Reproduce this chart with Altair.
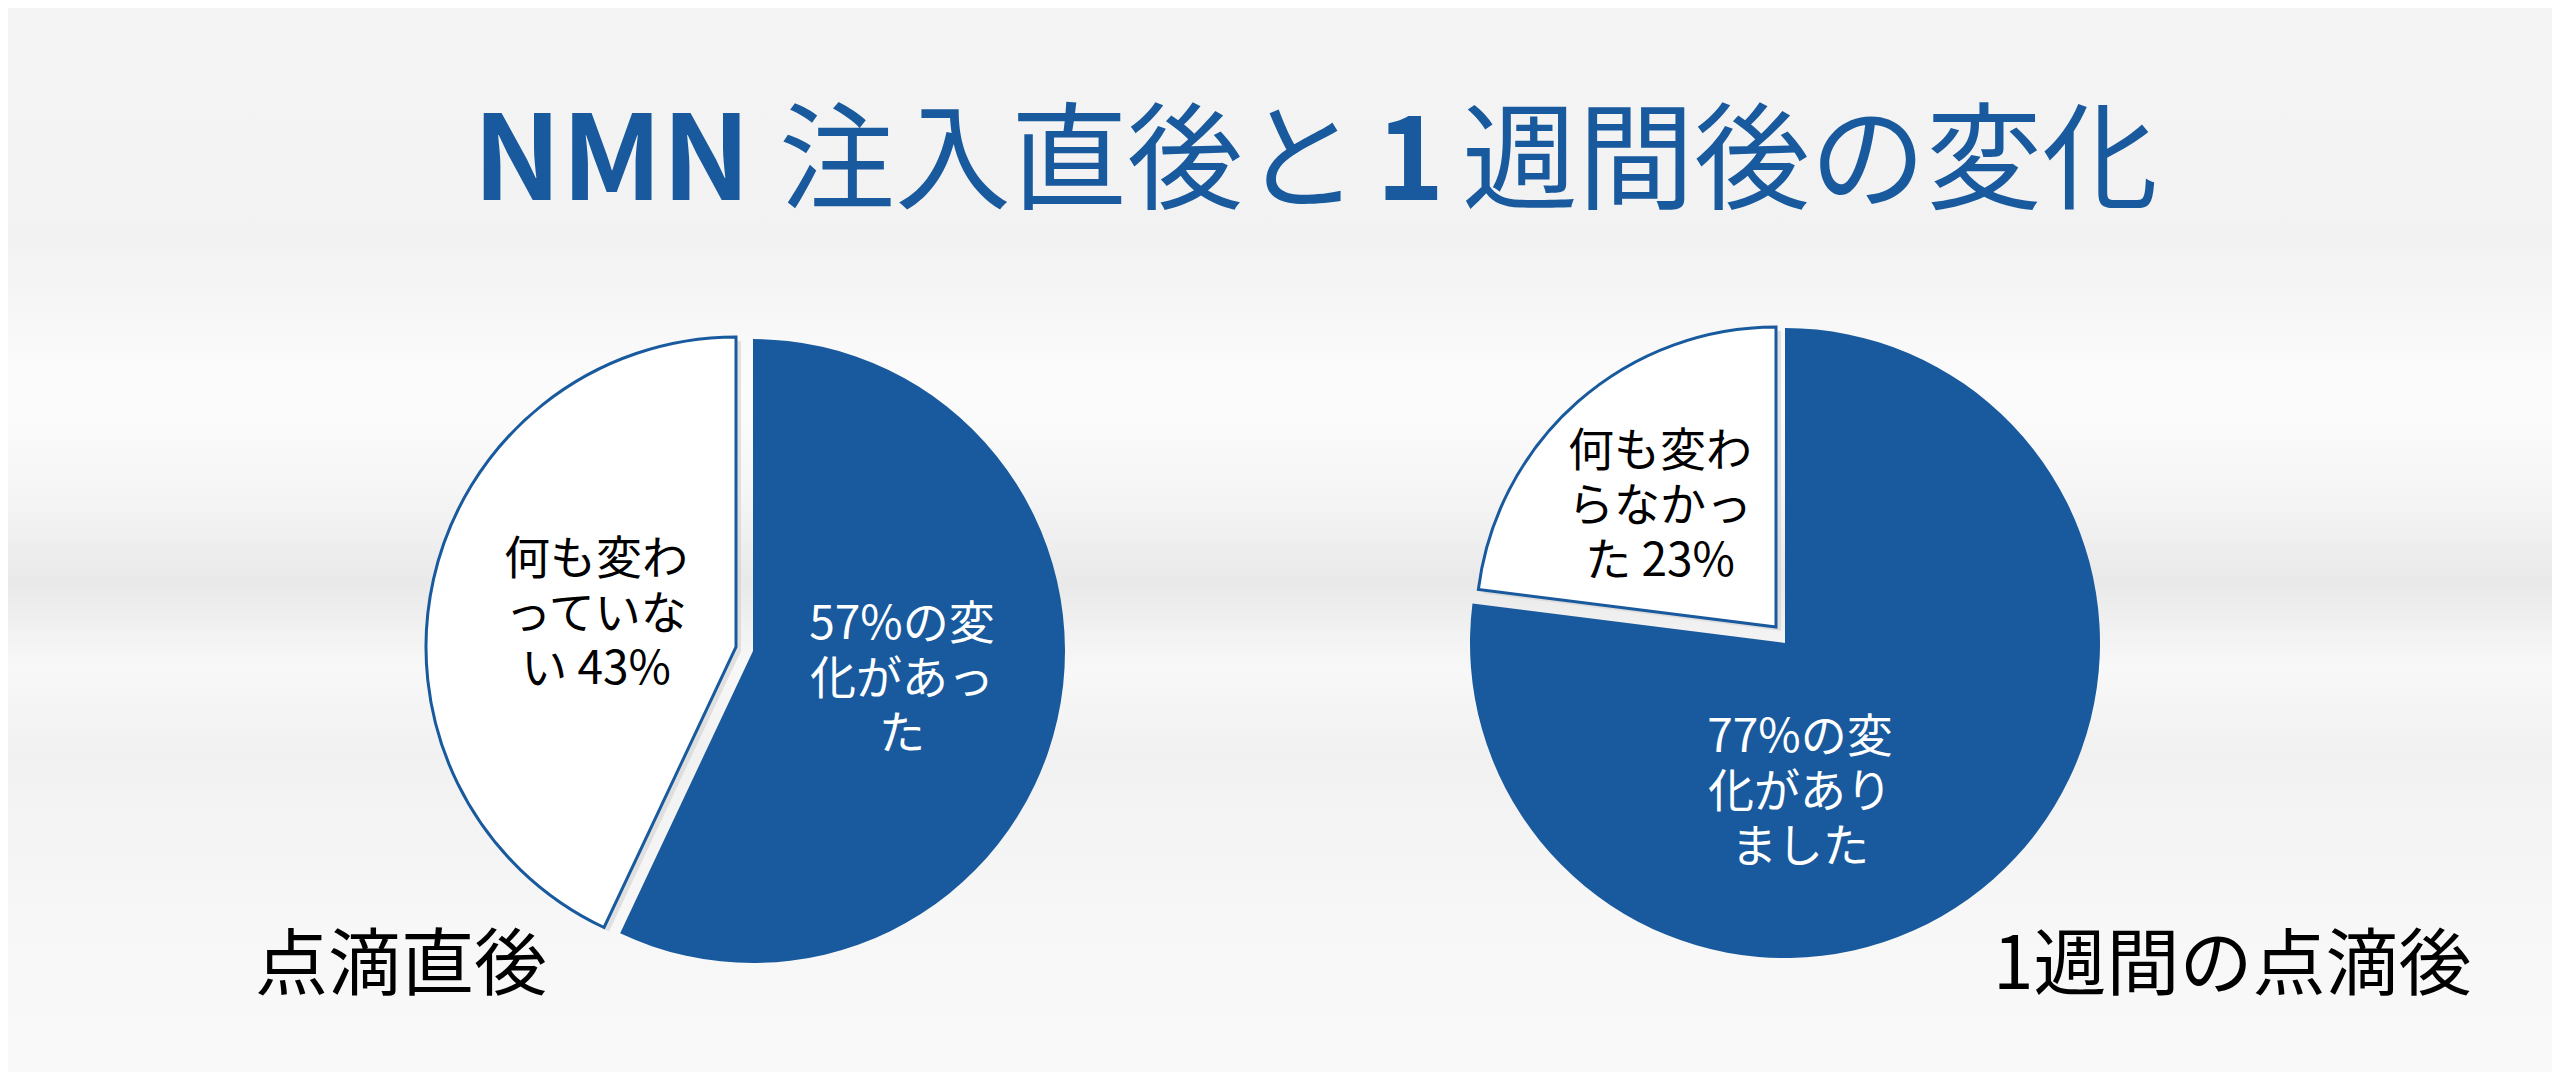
import math
import pandas as pd
import altair as alt

# ---------------- data ----------------
categories = ["変化あり", "変化なし"]
pct_immediate = [57, 43]
pct_week = [77, 23]
labels_immediate = ["57%の変\n化があっ\nた", "何も変わ\nっていな\nい 43%"]
labels_week = ["77%の変\n化があり\nました", "何も変わ\nらなかっ\nた 23%"]
panels = ["点滴直後", "1週間の点滴後"]
title_parts = ["NMN", "注入直後と", "1", "週間後の変化"]

rows = []
for panel, vals, labs in [(panels[0], pct_immediate, labels_immediate),
                          (panels[1], pct_week, labels_week)]:
    acc = 0
    for cat, v, lab in zip(categories, vals, labs):
        rows.append({"panel": panel, "category": cat, "pct": v,
                     "start": acc, "end": acc + v, "label": lab})
        acc += v
df = pd.DataFrame(rows)

# ---------------- style ----------------
W, H = 2544, 1064
BLUE = "#185a9d"
FONT = "Noto Sans CJK JP"
theta_scale = alt.Scale(domain=[0, 100], range=[0, 2 * math.pi])

base = alt.Chart(df)

bg = alt.Chart(alt.Data(values=[{"k": 1}])).mark_rect(
    color=alt.Gradient(
        gradient="linear", x1=0, x2=0, y1=0, y2=1,
        stops=[
            alt.GradientStop(offset=0.0, color="#f4f4f4"),
            alt.GradientStop(offset=0.22, color="#f2f2f2"),
            alt.GradientStop(offset=0.36, color="#fcfcfc"),
            alt.GradientStop(offset=0.45, color="#f6f6f6"),
            alt.GradientStop(offset=0.54, color="#e9e9e9"),
            alt.GradientStop(offset=0.62, color="#f8f8f8"),
            alt.GradientStop(offset=0.70, color="#f1f1f1"),
            alt.GradientStop(offset=0.85, color="#f7f7f7"),
            alt.GradientStop(offset=1.0, color="#f9f9f9"),
        ],
    )
).encode(x=alt.value(0), x2=alt.value(W), y=alt.value(0), y2=alt.value(H))


def slice_layer(panel, cat, cx, cy, r, fill, stroke=None, shadow=False):
    sel = base.transform_filter(
        (alt.datum.panel == panel) & (alt.datum.category == cat))
    layers = []
    if shadow:
        layers.append(sel.mark_arc(radius=r, fill="#cdcdcd", opacity=0.55).encode(
            theta=alt.Theta("start:Q", scale=theta_scale), theta2="end:Q",
            x=alt.value(cx + 5), y=alt.value(cy + 4)))
    kw = dict(radius=r, fill=fill)
    if stroke:
        kw.update(stroke=stroke, strokeWidth=3)
    layers.append(sel.mark_arc(**kw).encode(
        theta=alt.Theta("start:Q", scale=theta_scale), theta2="end:Q",
        x=alt.value(cx), y=alt.value(cy)))
    return layers


def label_layer(panel, cat, x, y, color):
    # y is the position of the first line of the wrapped label
    sel = base.transform_filter(
        (alt.datum.panel == panel) & (alt.datum.category == cat))
    return sel.mark_text(font=FONT, fontSize=46, lineHeight=55, lineBreak="\n",
                         align="center", baseline="middle", color=color).encode(
        text="label:N", x=alt.value(x), y=alt.value(y))


def free_text(txt, x, y, size, color, weight="normal", align="left"):
    return alt.Chart(alt.Data(values=[{"t": txt}])).mark_text(
        font=FONT, fontSize=size, fontWeight=weight, color=color,
        align=align, baseline="middle").encode(
        text="t:N", x=alt.value(x), y=alt.value(y))


layers = [bg]
# left pie (点滴直後)
layers += slice_layer(panels[0], categories[1], 728, 639, 310, "white", BLUE, shadow=True)
layers += slice_layer(panels[0], categories[0], 745, 643, 312, BLUE)
# right pie (1週間の点滴後)
layers += slice_layer(panels[1], categories[1], 1768, 619, 300, "white", BLUE, shadow=True)
layers += slice_layer(panels[1], categories[0], 1777, 635, 315, BLUE)

layers += [
    label_layer(panels[0], categories[1], 588, 552, "black"),
    label_layer(panels[0], categories[0], 894, 617, "white"),
    label_layer(panels[1], categories[1], 1652, 444, "black"),
    label_layer(panels[1], categories[0], 1792, 730, "white"),
]

# title
layers += [
    free_text(title_parts[0], 465, 157, 118, BLUE, weight="bold"),
    free_text(title_parts[1], 771, 157, 116, BLUE),
    free_text(title_parts[2], 1368, 157, 116, BLUE, weight="bold"),
    free_text(title_parts[3], 1454, 157, 116, BLUE),
]
# panel captions
layers += [
    free_text(panels[0], 247, 959, 73, "black"),
    free_text(panels[1], 1985, 959, 73, "black"),
]

chart = alt.layer(*layers).properties(
    width=W, height=H, padding=0, autosize=alt.AutoSizeParams(type="none")
).configure_view(stroke=None).configure(background="#f5f5f5")

chart.save("out.html", embed_options={"renderer": "svg", "actions": False})
